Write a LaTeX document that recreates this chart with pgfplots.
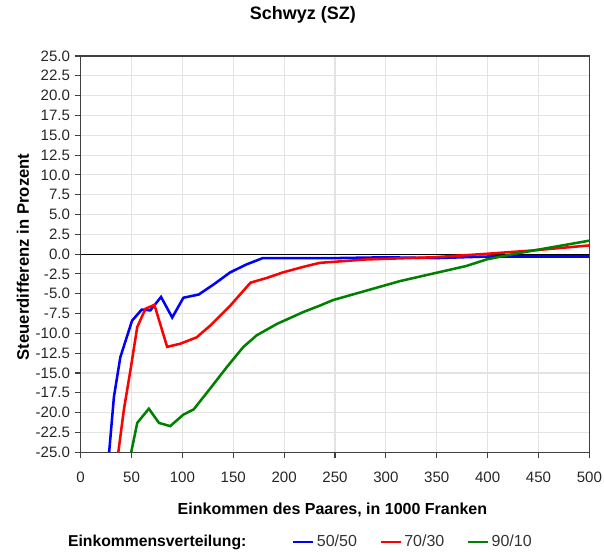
\documentclass[border=0pt]{standalone}
\usepackage{pgfplots}
\pgfplotsset{compat=1.18}
\usepackage{fontspec}
\setmainfont{Liberation Sans}
\definecolor{gridc}{HTML}{E3E3E3}
\definecolor{axc}{HTML}{404040}
\definecolor{grn}{HTML}{008000}
\begin{document}
\begin{tikzpicture}
\useasboundingbox (-60.5pt,-74.8pt) rectangle (392.5pt,339.2pt);
\begin{axis}[
  at={(0,0)}, anchor=south west,
  scale only axis, width=381.5pt, height=297.2pt,
  xmin=0, xmax=500, ymin=-25, ymax=25,
  xtick={0,50,...,500}, ytick={-25,-22.5,...,25},
  grid=major, major grid style={gridc, line width=0.8pt},
  axis line style={axc, line width=0.8pt},
  tick style={axc, line width=0.8pt},
  tick align=outside, tick pos=left,
  major tick length=4.5pt,
  /pgf/number format/assume math mode=true,
  yticklabel style={/pgf/number format/.cd, fixed, fixed zerofill, precision=1},
  xticklabel style={/pgf/number format/fixed, yshift=-7pt},
  ticklabel style={font=\fontsize{11.3pt}{13pt}\selectfont, text=black!85},
  title={\textbf{Schwyz (SZ)}},
  title style={at={(0.437,1.084)}, anchor=center, font=\fontsize{13.5pt}{15pt}\selectfont},
  xlabel={\textbf{Einkommen des Paares, in 1000 Franken}},
  xlabel style={at={(0.495,-0.1456)}, anchor=center, font=\fontsize{12pt}{14pt}\selectfont},
  ylabel={\textbf{Steuerdifferenz in Prozent}},
  ylabel style={at={(-0.1134,0.493)}, anchor=center, font=\fontsize{12.5pt}{14pt}\selectfont},
  legend columns=3,
  legend style={draw=none, fill=none, at={(0.4155,-0.226)}, anchor=west, inner xsep=0pt,
    font=\fontsize{12pt}{14pt}\selectfont, text=black!80,
    /tikz/every even column/.append style={column sep=15pt}},
  legend image code/.code={\draw[#1, line width=1.5pt] (0pt,0pt) -- (15pt,0pt);},
  clip=true,
]
\draw[black, line width=0.9pt] (axis cs:0,0) -- (axis cs:500,0);
\addplot[blue, line width=1.9pt] coordinates {
(28,-25) (32.7,-18) (39,-13) (50.5,-8.4) (60,-7.0) (68.5,-7.1) (79,-5.4) (90,-8.0) (101,-5.5) (116,-5.1) (131,-3.8) (147,-2.3) (163,-1.3) (179,-0.5) (250,-0.5) (300,-0.4) (350,-0.5) (400,-0.3) (500,-0.3)
};
\addlegendentry{50/50}
\addplot[red, line width=1.9pt] coordinates {
(37,-25) (42.5,-19.6) (49,-14.6) (55.6,-9.2) (63.7,-6.9) (72.5,-6.4) (85,-11.7) (98,-11.3) (114,-10.5) (127.5,-9) (147,-6.5) (167,-3.6) (183,-3.0) (199,-2.3) (219,-1.6) (235,-1.1) (281,-0.67) (346,-0.4) (399,0.04) (444,0.46) (500,1.1)
};
\addlegendentry{70/30}
\addplot[grn, line width=1.9pt] coordinates {
(49.7,-25) (55.6,-21.3) (67,-19.5) (77,-21.3) (88,-21.7) (101,-20.25) (111,-19.6) (124,-17.5) (144,-14.2) (160,-11.7) (173,-10.25) (193,-8.8) (219,-7.3) (235,-6.5) (248,-5.8) (314,-3.4) (379,-1.5) (399,-0.67) (425,0) (500,1.7)
};
\addlegendentry{90/10}
\end{axis}
\node[anchor=west, font=\bfseries\fontsize{11.8pt}{13pt}\selectfont] at (-13pt,-67.3pt) {Einkommensverteilung:};
\end{tikzpicture}
\end{document}
